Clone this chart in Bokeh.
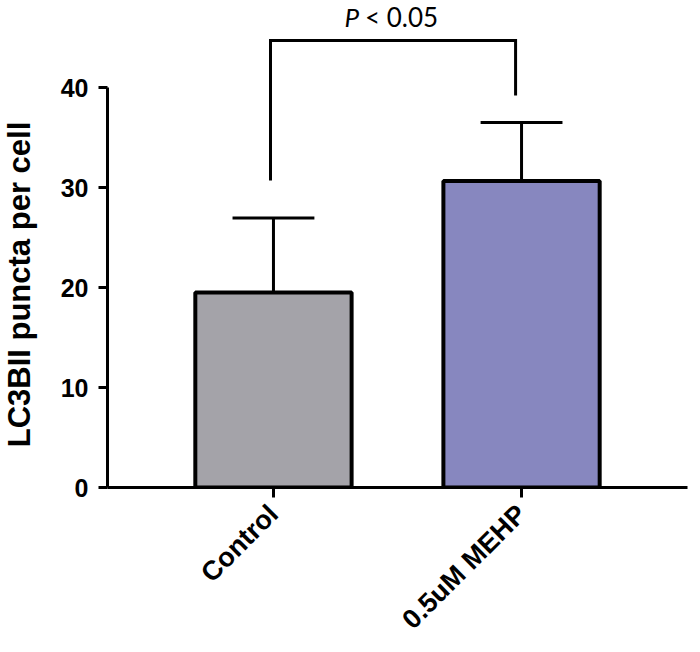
import math
from bokeh.plotting import figure
from bokeh.layouts import row
from bokeh.models import ColumnDataSource, FixedTicker, Range1d
from bokeh.core.properties import value
from bokeh.embed import file_html
from bokeh.resources import INLINE

# ---- data ----
categories = ["Control", "0.5uM MEHP"]
means = [19.5, 30.65]
errors = [7.45, 5.85]
bar_colors = ["#a4a3a9", "#8787bf"]
y_ticks = [0, 10, 20, 30, 40]
y_axis_label = "LC3BII puncta per cell"

# significance bracket (values in data units)
bracket_top = 44.7
bracket_left_bottom = 30.7
bracket_right_bottom = 39.2
bracket_x_shift = [-0.012, -0.024]
p_text_y = 47.05

xs = [i + 1 for i in range(len(categories))]
tops = [m + e for m, e in zip(means, errors)]
bar_w = 0.63
cap_w = 0.33

src = ColumnDataSource(dict(
    x=xs, top=means, color=bar_colors, err_top=tops,
    cap_l=[x - cap_w / 2 for x in xs], cap_r=[x + cap_w / 2 for x in xs],
))

yr = Range1d(0, 48.7)
FRAME_H = 487
BORDER_B = 157

p = figure(frame_width=580, frame_height=FRAME_H,
           x_range=Range1d(0.331, 2.669), y_range=yr,
           output_backend="svg", toolbar_location=None,
           min_border_left=57, min_border_right=5, min_border_top=0,
           min_border_bottom=BORDER_B)
p.outline_line_color = None
p.grid.visible = False
p.background_fill_color = "white"

# error stems and caps (drawn first so bar outline covers stem base)
p.segment(x0="x", y0="top", x1="x", y1="err_top", source=src,
          line_color="black", line_width=3)
p.segment(x0="cap_l", y0="err_top", x1="cap_r", y1="err_top", source=src,
          line_color="black", line_width=3)

p.vbar(x="x", top="top", bottom=0, width=bar_w, source=src,
       fill_color="color", line_color="black", line_width=4)

# bracket
bl = xs[0] + bracket_x_shift[0]
br = xs[1] + bracket_x_shift[1]
p.line(x=[bl, bl, br, br],
       y=[bracket_left_bottom, bracket_top, bracket_top, bracket_right_bottom],
       line_color="black", line_width=3, line_join="miter")
mid = (bl + br) / 2
p.text(x=[mid], y=[p_text_y], text=["P"], text_font=value("Lato"),
       text_font_style="italic", text_font_size="26px", text_align="right",
       text_baseline="middle", x_offset=-34, text_color="black")
p.text(x=[mid], y=[p_text_y], text=["< 0.05"], text_font=value("Lato"),
       text_font_size="26px", text_align="left",
       text_baseline="middle", x_offset=-28, text_color="black")

# axes
for ax in (p.xaxis[0], p.yaxis[0]):
    ax.axis_line_width = 3
    ax.axis_line_color = "black"
    ax.major_tick_line_width = 3
    ax.major_tick_line_color = "black"
    ax.minor_tick_line_color = None
    ax.major_tick_in = 0
    ax.major_label_text_font = "Liberation Sans"
    ax.major_label_text_font_style = "bold"
    ax.major_label_text_font_size = "25px"
    ax.major_label_text_color = "black"

p.yaxis.ticker = FixedTicker(ticks=y_ticks)
p.yaxis.bounds = (y_ticks[0], y_ticks[-1])
p.yaxis.major_tick_out = 9
p.yaxis.major_label_standoff = 10

p.xaxis.ticker = FixedTicker(ticks=xs)
p.xaxis.major_label_overrides = {x: c for x, c in zip(xs, categories)}
p.xaxis.major_label_text_font_size = "27px"
p.xaxis.major_tick_out = 10
p.xaxis.major_label_orientation = math.pi / 4
p.xaxis.major_label_standoff = 12

# narrow companion figure carrying the y-axis title, sharing the y range
lab = figure(frame_width=50, frame_height=FRAME_H,
             x_range=Range1d(0, 50), y_range=yr,
             x_axis_location=None, y_axis_location=None,
             output_backend="svg", toolbar_location=None,
             min_border_left=0, min_border_right=0, min_border_top=0,
             min_border_bottom=BORDER_B)
lab.outline_line_color = None
lab.grid.visible = False
lab.text(x=[19], y=[(y_ticks[0] + y_ticks[-1]) / 2], text=[y_axis_label],
         angle=math.pi / 2, text_align="center", text_baseline="middle",
         y_offset=-3,
         text_font=value("Liberation Sans"), text_font_style="bold",
         text_font_size="31px", text_color="black")

layout = row(lab, p)
open("out.html", "w").write(file_html(layout, INLINE))
